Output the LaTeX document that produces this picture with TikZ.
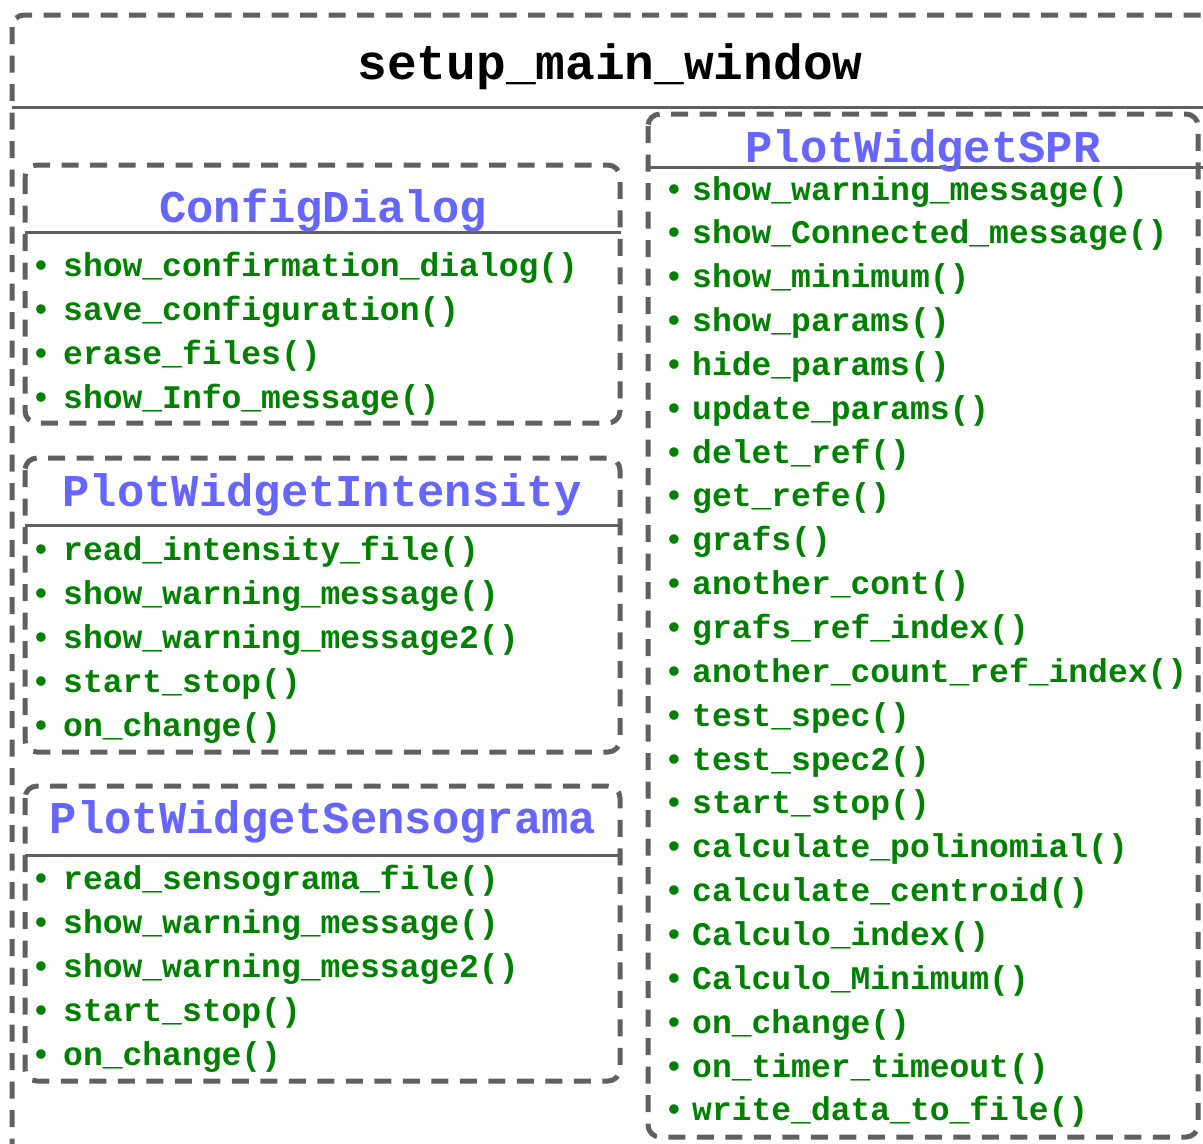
\documentclass[tikz,border=0pt]{standalone}
\usepackage{fontspec}
\setmonofont{Liberation Mono}
\definecolor{bordergray}{HTML}{606060}
\definecolor{titleblue}{HTML}{6666FF}
\definecolor{itemgreen}{HTML}{008000}
\tikzset{
  box/.style={draw=bordergray, line width=5pt, dash pattern=on 17pt off 11.5pt, rounded corners=12pt},
  sep/.style={draw=bordergray, line width=3pt},
  maintitle/.style={font=\ttfamily\bfseries\fontsize{49.5}{50}\selectfont, text=black, anchor=base, inner sep=0pt},
  classtitle/.style={font=\ttfamily\bfseries\fontsize{45.5}{46}\selectfont, text=titleblue, anchor=base, inner sep=0pt},
  itemtext/.style={font=\ttfamily\bfseries\fontsize{33}{33}\selectfont, text=itemgreen, anchor=base west, inner sep=0pt},
  bul/.style={font=\ttfamily\bfseries\fontsize{33}{33}\selectfont, text=itemgreen, anchor=base, inner sep=0pt},
}
\begin{document}
\begin{tikzpicture}[x=1pt, y=-1pt]
\path[use as bounding box] (0,0) rectangle (1203,1144);
\clip (0,0) rectangle (1203,1144);
% outer container
\draw[box] (12,15) rectangle (1213,1175);
\draw[sep] (12,107) -- (1203,107);
\node[maintitle] (main) at (610,79) {setup\_main\_window};
% ConfigDialog
\draw[box] (25,165) rectangle (620,423);
\draw[sep] (25,232) -- (621,232);
\node[classtitle] (cd) at (323,222) {ConfigDialog};
\foreach \t [count=\i] in {{show\_confirmation\_dialog()},{save\_configuration()},{erase\_files()},{show\_Info\_message()}}{
  \node[bul] (cdb-\i) at (41,{276+44*(\i-1)}) {•};
  \node[itemtext] (cdt-\i) at (63,{276+44*(\i-1)}) {\t};
}
% PlotWidgetIntensity
\draw[box] (25,458) rectangle (620,752);
\draw[sep] (25,525) -- (621,525);
\node[classtitle] (pi) at (322,506) {PlotWidgetIntensity};
\foreach \t [count=\i] in {{read\_intensity\_file()},{show\_warning\_message()},{show\_warning\_message2()},{start\_stop()},{on\_change()}}{
  \node[bul] (pib-\i) at (41,{560+44*(\i-1)}) {•};
  \node[itemtext] (pit-\i) at (63,{560+44*(\i-1)}) {\t};
}
% PlotWidgetSensograma
\draw[box] (25,786) rectangle (620,1081);
\draw[sep] (25,855) -- (621,855);
\node[classtitle] (ps) at (323,833) {PlotWidgetSensograma};
\foreach \t [count=\i] in {{read\_sensograma\_file()},{show\_warning\_message()},{show\_warning\_message2()},{start\_stop()},{on\_change()}}{
  \node[bul] (psb-\i) at (41,{889+44*(\i-1)}) {•};
  \node[itemtext] (pst-\i) at (63,{889+44*(\i-1)}) {\t};
}
% PlotWidgetSPR
\draw[box] (648,114) rectangle (1198,1137);
\draw[sep] (648,167) -- (1203,167);
\node[classtitle] (spr) at (923,162) {PlotWidgetSPR};
\foreach \t [count=\i] in {{show\_warning\_message()},{show\_Connected\_message()},{show\_minimum()},{show\_params()},{hide\_params()},{update\_params()},{delet\_ref()},{get\_refe()},{grafs()},{another\_cont()},{grafs\_ref\_index()},{another\_count\_ref\_index()},{test\_spec()},{test\_spec2()},{start\_stop()},{calculate\_polinomial()},{calculate\_centroid()},{Calculo\_index()},{Calculo\_Minimum()},{on\_change()},{on\_timer\_timeout()},{write\_data\_to\_file()}}{
  \node[bul] (sprb-\i) at (674,{200+43.85*(\i-1)}) {•};
  \node[itemtext] (sprt-\i) at (692,{200+43.85*(\i-1)}) {\t};
}
\end{tikzpicture}
\end{document}
